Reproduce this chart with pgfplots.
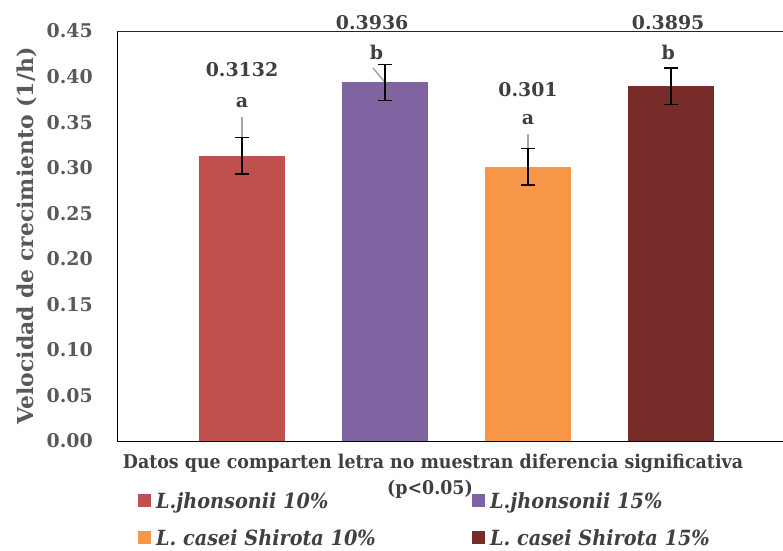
\documentclass[border=0pt]{standalone}
\usepackage{fontspec}
\setmainfont{DejaVu Serif}
\newfontfamily\condfont[FakeStretch=0.92]{DejaVu Serif}
\usepackage{pgfplots}
\pgfplotsset{compat=1.18}
\definecolor{cA}{HTML}{C0504D}
\definecolor{cB}{HTML}{8064A2}
\definecolor{cC}{HTML}{F79646}
\definecolor{cD}{HTML}{772C2A}
\definecolor{tickgray}{HTML}{595959}
\definecolor{textgray}{HTML}{404040}
\definecolor{leadgray}{HTML}{A6A6A6}
\begin{document}
\begin{tikzpicture}
\useasboundingbox (0,0) rectangle (783bp,551bp);
\begin{axis}[
  at={(117bp,110bp)}, anchor=south west,
  scale only axis, width=666bp, height=410bp,
  xmin=0.126, xmax=4.783, ymin=0, ymax=0.45,
  axis x line*=bottom, axis y line*=left,
  axis line style={black, line width=0.9bp},
  xtick=\empty,
  ytick={0,0.05,0.1,0.15,0.2,0.25,0.3,0.35,0.4,0.45},
  yticklabels={0.00,0.05,0.10,0.15,0.20,0.25,0.30,0.35,0.40,0.45},
  major tick length=0pt,
  yticklabel style={font=\fontsize{19}{19}\selectfont\bfseries, text=tickgray, inner sep=0pt, anchor=east, xshift=-24bp},
  ylabel={Velocidad de crecimiento (1/h)},
  every axis y label/.style={at={(rel axis cs:0,0.5)}, xshift=-90bp, rotate=90, anchor=center, font=\fontsize{22}{22}\selectfont\bfseries, text=tickgray},
  clip=false,
  legend columns=2,
  legend style={at={(rel axis cs:0,0)}, anchor=north west, xshift=21bp, yshift=-52bp,
    draw=none, fill=none, inner sep=0pt, column sep=4bp, row sep=17bp,
    nodes={inner sep=0pt, text height=15bp, text depth=5bp, anchor=base west},
    font=\fontsize{21}{21}\condfont\bfseries\itshape, text=textgray},
  legend cell align=left,
]
\addplot[ybar, bar width=86bp, bar shift=0pt, fill=cA, draw=none,
  legend image code/.code={\fill[cA] (0bp,1bp) rectangle (13bp,14bp);}]
  coordinates {(1,0.3132)};
\addlegendentry{\hspace{1bp}\makebox[312bp][l]{L.jhonsonii 10\%}}
\addplot[ybar, bar width=86bp, bar shift=0pt, fill=cB, draw=none,
  legend image code/.code={\fill[cB] (0bp,1bp) rectangle (13bp,14bp);}]
  coordinates {(2,0.3936)};
\addlegendentry{\hspace{1bp}\makebox[312bp][l]{L.jhonsonii 15\%}}
\addplot[ybar, bar width=86bp, bar shift=0pt, fill=cC, draw=none,
  legend image code/.code={\fill[cC] (0bp,1bp) rectangle (13bp,14bp);}]
  coordinates {(3,0.301)};
\addlegendentry{\hspace{1bp}\makebox[312bp][l]{L. casei Shirota 10\%}}
\addplot[ybar, bar width=86bp, bar shift=0pt, fill=cD, draw=none,
  legend image code/.code={\fill[cD] (0bp,1bp) rectangle (13bp,14bp);}]
  coordinates {(4,0.3895)};
\addlegendentry{\hspace{1bp}\makebox[312bp][l]{L. casei Shirota 15\%}}
% leader lines
\addplot[forget plot, leadgray, line width=1.5bp, mark=none] coordinates {(1,0.3132) (1,0.3556)};
\addplot[forget plot, leadgray, line width=1.5bp, mark=none] coordinates {(2,0.3936) (1.916,0.4094)};
\addplot[forget plot, leadgray, line width=1.5bp, mark=none] coordinates {(3,0.301) (3,0.337)};
\addplot[forget plot, leadgray, line width=1.5bp, mark=none] coordinates {(4,0.3895) (4,0.4094)};
% error bars
\addplot[forget plot, draw=none, mark=none,
  error bars/.cd, y dir=both, y explicit,
  error bar style={draw=black, line width=1.3bp},
  error mark options={draw=black, line width=1.3bp, mark size=7bp, rotate=90}]
  coordinates {(1,0.3132) +- (0,0.02) (2,0.3936) +- (0,0.02) (3,0.301) +- (0,0.02) (4,0.3895) +- (0,0.02)};
% top spine
\draw[black!85, line width=0.9bp] (rel axis cs:0,1) -- (rel axis cs:1,1);
% value labels
\begin{scope}[every node/.style={font=\fontsize{19}{19}\selectfont\bfseries, text=textgray, anchor=base, inner sep=0pt}]
\node at (axis cs:1,0.3996) {0.3132};
\node at (axis cs:1,0.3655) {a};
\node at (axis cs:1.91,0.4512) {0.3936};
\node at (axis cs:1.94,0.4182) {b};
\node at (axis cs:3,0.3776) {0.301};
\node at (axis cs:3,0.3469) {a};
\node at (axis cs:3.98,0.4512) {0.3895};
\node at (axis cs:3.98,0.4182) {b};
\end{scope}
\end{axis}
\node[font=\fontsize{19}{19}\condfont\bfseries, text=textgray, inner sep=0pt, anchor=base] at (433bp,82bp) {Datos que comparten letra no muestran diferencia significativa};
\node[font=\fontsize{19}{19}\condfont\bfseries, text=textgray, inner sep=0pt, anchor=base] at (430bp,56bp) {(p<0.05)};
\end{tikzpicture}
\end{document}
